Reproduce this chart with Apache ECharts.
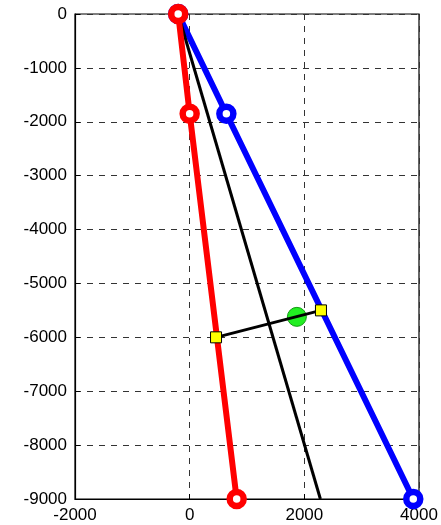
<!DOCTYPE html>
<html>
<head>
<meta charset="utf-8">
<script src="https://cdn.jsdelivr.net/npm/echarts@6/dist/echarts.min.js"></script>
<style>
  html, body { margin: 0; padding: 0; background: #fff; }
  #chart { width: 441px; height: 525px; }
</style>
</head>
<body>
<div id="chart"></div>
<script>
// Well traces: x offset vs depth
var redX = [-200, 0, 820];
var redY = [0, -1850, -9000];
var blueX = [-200, 640, 3900];
var blueY = [0, -1850, -9000];
var refX = [-200, 2280];
var refY = [0, -9000];
// Connector between the two traces and its midpoint marker
var linkX = [460, 2290];
var linkY = [-6000, -5500];
var midX = [1870];
var midY = [-5620];

var xTicks = [-2000, 0, 2000, 4000];
var yTicks = [0, -1000, -2000, -3000, -4000, -5000, -6000, -7000, -8000, -9000];

function pairs(xs, ys) {
  return xs.map(function (x, i) { return [x, ys[i]]; });
}

var chart = echarts.init(document.getElementById('chart'), null, { renderer: 'canvas' });

var labelFont = {
  color: '#000', fontSize: 17, fontFamily: 'Liberation Sans, Arial, sans-serif',
  formatter: function (v) { return String(v); }
};
var dashed = { show: true, lineStyle: { color: '#333', type: [6, 6], width: 1 } };

function traceSeries(xs, ys, color, z) {
  return {
    type: 'line', data: pairs(xs, ys), clip: false, z: z,
    lineStyle: { color: color, width: 6 }, symbol: 'none'
  };
}
function ringSeries(xs, ys, color, z) {
  return {
    type: 'scatter', data: pairs(xs, ys), clip: false, z: z,
    symbol: 'circle', symbolSize: 14,
    itemStyle: { color: '#fff', borderColor: color, borderWidth: 6.5, opacity: 1 }
  };
}

chart.setOption({
  animation: false,
  grid: { left: 75, top: 14, right: 22, bottom: 26, show: true, borderColor: '#000', borderWidth: 1.2 },
  xAxis: {
    type: 'value',
    min: xTicks[0], max: xTicks[xTicks.length - 1], interval: 2000,
    axisLine: { show: true, onZero: false, lineStyle: { color: '#000', width: 1.2 } },
    axisTick: { show: true, inside: true, length: 5, lineStyle: { color: '#000' } },
    axisLabel: Object.assign({ margin: 8 }, labelFont),
    splitLine: dashed
  },
  yAxis: {
    type: 'value',
    min: yTicks[yTicks.length - 1], max: yTicks[0], interval: 1000,
    axisLine: { show: true, onZero: false, lineStyle: { color: '#000', width: 1.2 } },
    axisTick: { show: true, inside: true, length: 5, lineStyle: { color: '#000' } },
    axisLabel: Object.assign({ margin: 8 }, labelFont),
    splitLine: dashed
  },
  series: [
    traceSeries(blueX, blueY, '#0000ff', 2),
    ringSeries(blueX, blueY, '#0000ff', 3),
    {
      type: 'line', data: pairs(refX, refY), clip: false, z: 4,
      lineStyle: { color: '#000', width: 3 }, symbol: 'none'
    },
    traceSeries(redX, redY, '#ff0000', 5),
    ringSeries(redX, redY, '#ff0000', 6),
    {
      type: 'scatter', data: pairs(midX, midY), z: 7,
      symbol: 'circle', symbolSize: 19,
      itemStyle: { color: '#22ee22', borderColor: '#119911', borderWidth: 1, opacity: 1 }
    },
    {
      type: 'line', data: pairs(linkX, linkY), z: 8,
      lineStyle: { color: '#000', width: 3 },
      symbol: 'rect', symbolSize: 11,
      itemStyle: { color: '#ffff00', borderColor: '#000', borderWidth: 1 }
    }
  ]
});
</script>
</body>
</html>
